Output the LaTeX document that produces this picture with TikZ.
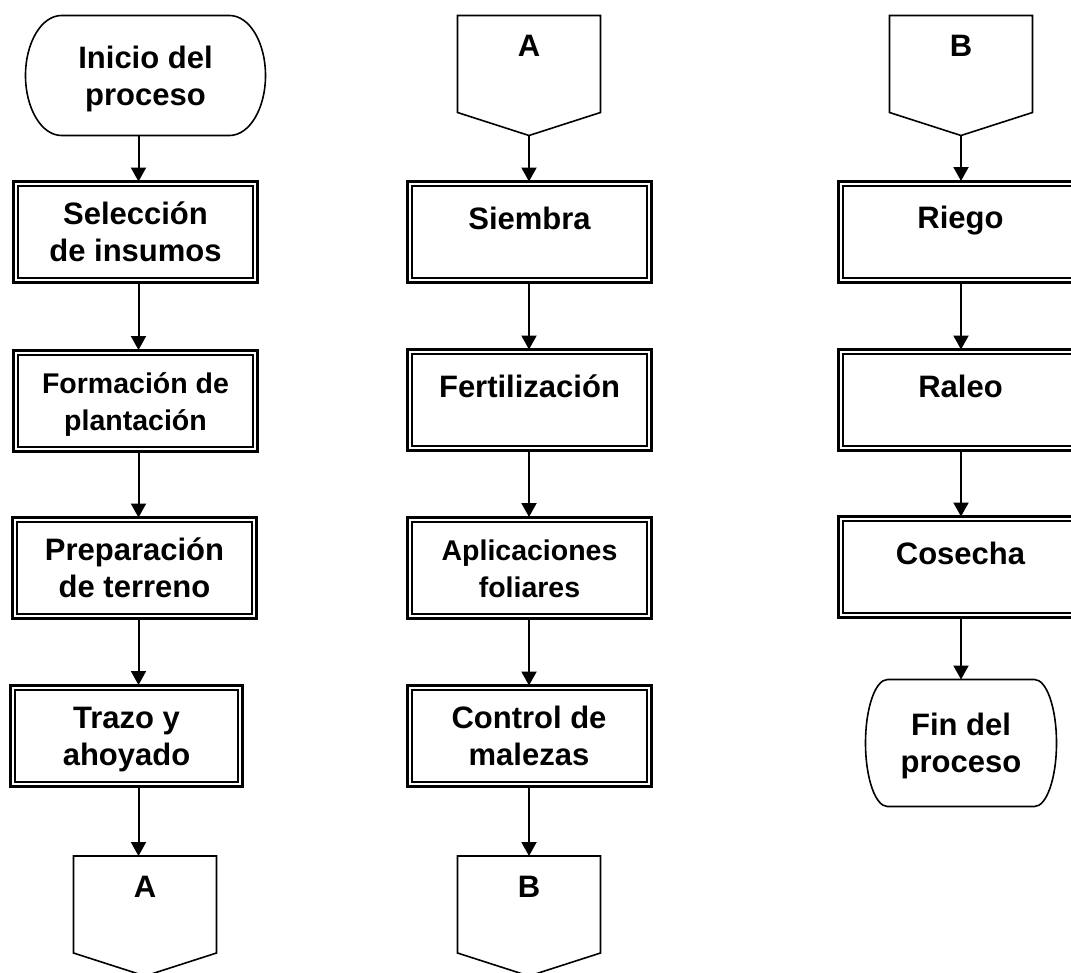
\documentclass[tikz,border=0pt]{standalone}
\usepackage{fontspec}
\setmainfont{Liberation Sans}
\usetikzlibrary{arrows.meta}
\newcommand\lnstrut{\rule[-7pt]{0pt}{36pt}}
\tikzset{
  boxbase/.style={draw, line width=3pt, inner sep=0pt, outer sep=0pt, align=center,
     minimum width=244pt, minimum height=101pt},
  twobox/.style={boxbase, font=\bfseries\fontsize{31pt}{35pt}\selectfont},
  smallbox/.style={boxbase, font=\bfseries\fontsize{28.5pt}{34pt}\selectfont},
  onebox/.style={boxbase, font=\bfseries\fontsize{31pt}{35pt}\selectfont, text height=13pt, text depth=19pt},
  innerline/.style={line width=2pt},
  term/.style={inner sep=0pt, outer sep=0pt, align=center, font=\bfseries\fontsize{31pt}{35pt}\selectfont},
  termline/.style={line width=1.6pt},
  offpage/.style={inner sep=0pt, outer sep=0pt, minimum width=143pt, minimum height=120pt},
  offline/.style={line width=1.6pt, line join=miter},
  letter/.style={font=\bfseries\fontsize{31pt}{35pt}\selectfont, anchor=base, inner sep=0pt},
  arr/.style={line width=2pt, -{Triangle[width=15pt,length=14pt]}},
}
\begin{document}
\begin{tikzpicture}[x=1pt,y=-1pt]
\useasboundingbox (0,0) rectangle (1071,972);
\clip (0,0) rectangle (1071,972);
\fill[white] (0,0) rectangle (1071,972);

\coordinate (c1) at (138.5,0);
\coordinate (c2) at (529,0);
\coordinate (c3) at (961,0);

% ---- column 1
\node[term, minimum width=240pt, minimum height=120pt] (t1) at (145.5,75.5) {\lnstrut Inicio del\\proceso\lnstrut};
\draw[termline] ([xshift=36pt]t1.north west) -- ([xshift=-36pt]t1.north east)
  arc[start angle=90,end angle=-90,x radius=36pt,y radius=60pt]
  -- ([xshift=36pt]t1.south west)
  arc[start angle=270,end angle=90,x radius=36pt,y radius=60pt] -- cycle;

\node[twobox] (b1) at (135.5,232) {\lnstrut Selección\\de insumos\lnstrut};
\node[smallbox] (b2) at (135.5,400.5) {\lnstrut Formación de\\plantación\lnstrut};
\node[twobox] (b3) at (134.5,568) {\lnstrut Preparación\\de terreno\lnstrut};
\node[twobox, minimum width=232pt] (b4) at (126.5,735.5) {\lnstrut Trazo y\\ahoyado\lnstrut};

\node[offpage] (oA1) at (145,916) {};
\draw[offline] (oA1.north west) -- (oA1.north east) -- ([yshift=23pt]oA1.south east)
  -- (oA1.south) -- ([yshift=23pt]oA1.south west) -- cycle;
\node[letter] (lA1) at ([yshift=-41pt]oA1.north) {A};

% ---- column 2
\node[offpage] (oA2) at (529,75.5) {};
\draw[offline] (oA2.north west) -- (oA2.north east) -- ([yshift=23pt]oA2.south east)
  -- (oA2.south) -- ([yshift=23pt]oA2.south west) -- cycle;
\node[letter] (lA2) at ([yshift=-41pt]oA2.north) {A};

\node[onebox] (s1) at (529.5,232) {Siembra};
\node[onebox] (s2) at (529.5,400) {Fertilización};
\node[smallbox] (s3) at (529.5,567.5) {\lnstrut Aplicaciones\\foliares\lnstrut};
\node[twobox] (s4) at (529,736) {\lnstrut Control de\\malezas\lnstrut};

\node[offpage] (oB1) at (529,916) {};
\draw[offline] (oB1.north west) -- (oB1.north east) -- ([yshift=23pt]oB1.south east)
  -- (oB1.south) -- ([yshift=23pt]oB1.south west) -- cycle;
\node[letter] (lB1) at ([yshift=-41pt]oB1.north) {B};

% ---- column 3
\node[offpage] (oB2) at (961,75.5) {};
\draw[offline] (oB2.north west) -- (oB2.north east) -- ([yshift=23pt]oB2.south east)
  -- (oB2.south) -- ([yshift=23pt]oB2.south west) -- cycle;
\node[letter] (lB2) at ([yshift=-41pt]oB2.north) {B};

\node[onebox] (r1) at (960.5,231.5) {Riego};
\node[onebox] (r2) at (960.5,400) {Raleo};
\node[onebox] (r3) at (960.5,567) {Cosecha};

\node[term, minimum width=191pt, minimum height=127pt] (t2) at (961,743) {\lnstrut Fin del\\proceso\lnstrut};
\draw[termline] ([xshift=22pt]t2.north west) -- ([xshift=-22pt]t2.north east)
  arc[start angle=90,end angle=-90,x radius=22pt,y radius=63.5pt]
  -- ([xshift=22pt]t2.south west)
  arc[start angle=270,end angle=90,x radius=22pt,y radius=63.5pt] -- cycle;

% inner lines of the double boxes
\foreach \n in {b1,b2,b3,b4,s1,s2,s3,s4,r1,r2,r3}
  \draw[innerline] ([shift={(4.5pt,-4.5pt)}]\n.north west) rectangle ([shift={(-4.5pt,4.5pt)}]\n.south east);

% connectors
\draw[arr] (t1.south -| c1) -- (b1.north -| c1);
\draw[arr] (b1.south -| c1) -- (b2.north -| c1);
\draw[arr] (b2.south -| c1) -- (b3.north -| c1);
\draw[arr] (b3.south -| c1) -- (b4.north -| c1);
\draw[arr] (b4.south -| c1) -- (oA1.north -| c1);

\draw[arr] (oA2.south) -- (s1.north -| c2);
\draw[arr] (s1.south -| c2) -- (s2.north -| c2);
\draw[arr] (s2.south -| c2) -- (s3.north -| c2);
\draw[arr] (s3.south -| c2) -- (s4.north -| c2);
\draw[arr] (s4.south -| c2) -- (oB1.north -| c2);

\draw[arr] (oB2.south) -- (r1.north -| c3);
\draw[arr] (r1.south -| c3) -- (r2.north -| c3);
\draw[arr] (r2.south -| c3) -- (r3.north -| c3);
\draw[arr] (r3.south -| c3) -- (t2.north -| c3);
\end{tikzpicture}
\end{document}
